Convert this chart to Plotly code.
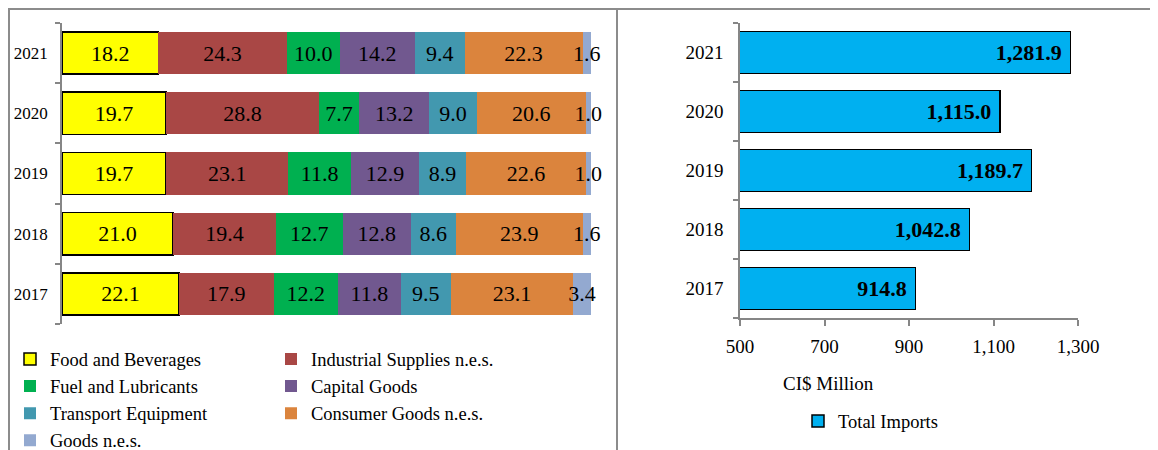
import plotly.graph_objects as go

# page has an 8px body margin: figure occupies page x 8..1158, y 8..450
OFF = 8
FW, FH = 1158 - OFF, 450 - OFF
FONT = "Liberation Serif"

years = ["2017", "2018", "2019", "2020", "2021"]

categories = [
    "Food and Beverages",
    "Industrial Supplies n.e.s.",
    "Fuel and Lubricants",
    "Capital Goods",
    "Transport Equipment",
    "Consumer Goods n.e.s.",
    "Goods n.e.s.",
]
# shares (%) per category, ordered 2017..2021
food = [22.1, 21.0, 19.7, 19.7, 18.2]
industrial = [17.9, 19.4, 23.1, 28.8, 24.3]
fuel = [12.2, 12.7, 11.8, 7.7, 10.0]
capital = [11.8, 12.8, 12.9, 13.2, 14.2]
transport = [9.5, 8.6, 8.9, 9.0, 9.4]
consumer = [23.1, 23.9, 22.6, 20.6, 22.3]
goods_nes = [3.4, 1.6, 1.0, 1.0, 1.6]

total_imports = [914.8, 1042.8, 1189.7, 1115.0, 1281.9]

colors = ["#FFFF00", "#A94745", "#00B050", "#71588F", "#4298AF", "#DB843D", "#93A9D0"]
series = [food, industrial, fuel, capital, transport, consumer, goods_nes]
legend_ref = ["legend", "legend2", "legend", "legend2", "legend", "legend2", "legend"]

fig = go.Figure()

for name, vals, col, lg in zip(categories, series, colors, legend_ref):
    is_food = name == "Food and Beverages"
    fig.add_trace(go.Bar(
        y=years, x=vals, name=name, orientation="h",
        marker=dict(color=col, line=dict(color="#000000" if is_food else col,
                                         width=1.5 if is_food else 0)),
        width=0.7,
        text=[f"{v:.1f}" for v in vals], textposition="inside",
        insidetextanchor="middle", textangle=0,
        textfont=dict(family=FONT, size=22, color="#000000"),
        cliponaxis=False,
        xaxis="x", yaxis="y", legend=lg, showlegend=True,
    ))

fig.add_trace(go.Bar(
    y=years, x=total_imports, name="Total Imports", orientation="h",
    marker=dict(color="#00B0F0", line=dict(color="#000000", width=1.5)),
    width=0.72,
    texttemplate="%{x:,.1f}\u00a0", textposition="inside", insidetextanchor="end",
    textangle=0,
    textfont=dict(family=FONT, size=22, color="#000000", weight="bold"),
    cliponaxis=False,
    xaxis="x2", yaxis="y2", legend="legend3",
))

def px_x(p):
    return (p - OFF) / FW

def px_y(p):
    return 1 - (p - OFF) / FH

axis_grey = "#868686"
border_grey = "#8c8c8c"

legend_common = dict(
    orientation="v", traceorder="normal", bgcolor="rgba(0,0,0,0)",
    font=dict(family=FONT, size=18.5, color="#000000"),
    xanchor="left", yanchor="top", itemclick=False, tracegroupgap=0,
)

fig.update_layout(
    width=FW, height=FH,
    margin=dict(l=0, r=0, t=0, b=0, autoexpand=False),
    paper_bgcolor="white", plot_bgcolor="white",
    barmode="stack",
    font=dict(family=FONT, color="#000000"),
    uniformtext=dict(minsize=22, mode="show"),
    xaxis=dict(domain=[px_x(62), px_x(591)], range=[0, 100], visible=False,
               anchor="y", automargin=False),
    yaxis=dict(domain=[px_y(324), px_y(23)], type="category",
               categoryorder="array", categoryarray=years, range=[-0.5, 4.5],
               anchor="x", showline=True, linecolor=axis_grey, linewidth=1.5,
               ticks="outside", tickson="boundaries", ticklen=5,
               tickcolor=axis_grey, tickwidth=1.5, showgrid=False,
               ticklabelstandoff=9, automargin=False,
               tickfont=dict(family=FONT, size=17, color="#000000")),
    xaxis2=dict(domain=[px_x(740), px_x(1078)], range=[500, 1300],
                tickvals=[500, 700, 900, 1100, 1300], tickformat=",",
                anchor="y2", showline=True, linecolor=axis_grey, linewidth=1.5,
                ticks="outside", ticklen=6, tickcolor=axis_grey, tickwidth=1.5,
                showgrid=False, zeroline=False, ticklabelstandoff=4,
                automargin=False,
                tickfont=dict(family=FONT, size=19, color="#000000")),
    yaxis2=dict(domain=[px_y(318), px_y(23)], type="category",
                categoryorder="array", categoryarray=years, range=[-0.5, 4.5],
                anchor="x2", showline=True, linecolor=axis_grey, linewidth=1.5,
                ticks="outside", tickson="boundaries", ticklen=5,
                tickcolor=axis_grey, tickwidth=1.5, showgrid=False,
                ticklabelstandoff=11, automargin=False,
                tickfont=dict(family=FONT, size=19, color="#000000")),
    legend=dict(x=px_x(10), y=px_y(340.5), **legend_common),
    legend2=dict(x=px_x(271), y=px_y(340.5), **legend_common),
    legend3=dict(x=px_x(798), y=px_y(402.5), **legend_common),
    annotations=[dict(text="CI$ Million", x=px_x(828), y=px_y(383),
                      xref="paper", yref="paper", showarrow=False,
                      xanchor="center", yanchor="middle",
                      font=dict(family=FONT, size=19, color="#000000"))],
    shapes=[
        dict(type="line", xref="paper", yref="paper", x0=0, x1=1,
             y0=px_y(9), y1=px_y(9), line=dict(color=border_grey, width=2)),
        dict(type="line", xref="paper", yref="paper", x0=px_x(9), x1=px_x(9),
             y0=px_y(9), y1=0, line=dict(color=border_grey, width=2)),
        dict(type="line", xref="paper", yref="paper", x0=px_x(617), x1=px_x(617),
             y0=px_y(9), y1=0, line=dict(color=border_grey, width=2)),
    ],
)

fig.write_html("out.html")
